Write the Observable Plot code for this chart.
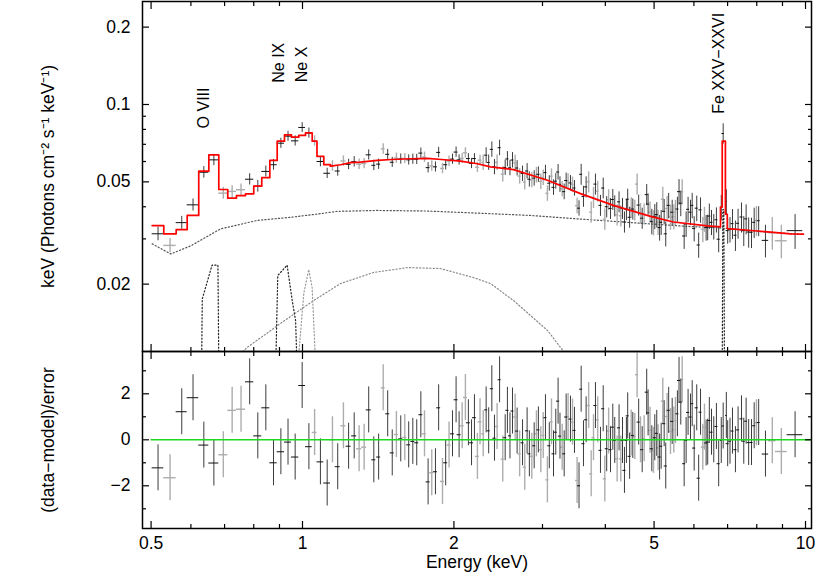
<!DOCTYPE html>
<html><head><meta charset="utf-8">
<script src="https://cdn.jsdelivr.net/npm/d3@7"></script>
<script src="https://cdn.jsdelivr.net/npm/@observablehq/plot@0.6"></script>
<style>
body{margin:0;background:#fff;}
#chart{position:relative;width:830px;height:573px;overflow:hidden;background:#fff;}
#chart svg{position:absolute;left:0;background:transparent;overflow:visible;}
</style></head><body><div id="chart"></div>
<script>
// ---------- data ----------
const energy = [
0.5162,0.5454,0.5754,0.6059,0.6366,0.6665,0.6960,0.7247,0.7548,0.7852,
0.8150,0.8455,0.8758,0.9058,0.9359,0.9670,0.9985,1.0297,1.0570,1.0855,
1.1196,1.147,1.175,1.206,1.235,1.267,1.296,1.326,1.354,1.386,
1.417,1.447,1.477,1.508,1.537,1.568,1.597,1.626,1.657,1.687,
1.719,1.748,1.777,1.807,1.838,1.865,1.898,1.926,1.956,1.987,
2.020,2.048,2.077,2.108,2.137,2.168,2.197,2.227,2.254,2.287,
2.318,2.345,2.379,2.408,2.437,2.465,2.501,2.529,2.555,2.585,
2.615,2.647,2.671,2.702,2.738,2.766,2.796,2.825,2.857,2.888,
2.918,2.944,2.977,3.010,3.041,3.068,3.095,3.126,3.155,3.188,
3.222,3.250,3.283,3.313,3.343,3.373,3.410,3.442,3.473,3.515,
3.546,3.581,3.619,3.663,3.706,3.749,3.789,3.823,3.862,3.912,
3.961,3.990,4.025,4.061,4.096,4.139,4.176,4.222,4.259,4.293,
4.327,4.366,4.405,4.431,4.470,4.503,4.536,4.577,4.626,4.659,
4.699,4.735,4.778,4.834,4.865,4.908,4.948,4.986,5.016,5.061,
5.092,5.128,5.165,5.203,5.236,5.274,5.307,5.345,5.390,5.432,
5.472,5.514,5.563,5.605,5.650,5.687,5.738,5.790,5.842,5.907,
5.953,6.007,6.078,6.132,6.184,6.249,6.297,6.345,6.391,6.439,
6.503,6.571,6.651,6.720,6.800,6.860,6.960,7.003,7.078,7.159,
7.256,7.344,7.460,7.538,7.620,7.709,7.810,7.906,7.988,8.070,
8.325,8.590,8.953,9.534];

const halfWidth = [
0.0137,0.0155,0.0145,0.0160,0.0147,0.0152,0.0143,0.0145,0.0157,0.0148,
0.0150,0.0156,0.0148,0.0152,0.0150,0.0162,0.0154,0.0158,0.0116,0.0169,
0.0172,0.013,0.0135,0.014,0.014,0.0145,0.015,0.015,0.0155,0.0125,
0.0128,0.013,0.0133,0.0136,0.0138,0.0141,0.0144,0.0146,0.0149,0.0152,
0.0155,0.0157,0.016,0.0163,0.0165,0.0168,0.0171,0.0173,0.0176,0.0179,
0.0182,0.0184,0.0187,0.019,0.0192,0.0195,0.0198,0.02,0.0203,0.016,
0.016,0.016,0.017,0.017,0.017,0.017,0.018,0.018,0.018,0.018,
0.018,0.019,0.019,0.019,0.019,0.019,0.020,0.020,0.020,0.020,
0.020,0.021,0.021,0.021,0.021,0.021,0.022,0.022,0.022,0.022,
0.023,0.023,0.023,0.023,0.023,0.024,0.024,0.024,0.024,0.025,
0.025,0.025,0.025,0.026,0.026,0.026,0.027,0.027,0.027,0.027,
0.028,0.028,0.028,0.028,0.029,0.029,0.029,0.030,0.030,0.030,
0.030,0.031,0.031,0.031,0.031,0.032,0.032,0.032,0.032,0.033,
0.033,0.033,0.033,0.034,0.034,0.034,0.035,0.035,0.035,0.035,
0.036,0.036,0.036,0.036,0.037,0.037,0.037,0.037,0.038,0.038,
0.038,0.039,0.039,0.039,0.040,0.040,0.040,0.041,0.041,0.041,
0.042,0.042,0.043,0.043,0.043,0.044,0.044,0.044,0.045,0.045,
0.046,0.046,0.047,0.047,0.025,0.040,0.025,0.049,0.050,0.050,
0.051,0.051,0.052,0.053,0.053,0.054,0.055,0.055,0.056,0.056,
0.123,0.147,0.239,0.342];

const flux = [
0.0314,0.0283,0.0347,0.0407,0.0545,0.0609,0.0452,0.0459,0.0466,0.0512,
0.0481,0.0549,0.0583,0.0707,0.0753,0.0722,0.0814,0.0775,0.0722,0.0600,
0.0540,0.0577,0.0551,0.0603,0.0585,0.0599,0.0586,0.0589,0.0637,0.0580,
0.0586,0.0672,0.0640,0.0596,0.0619,0.0614,0.0617,0.0609,0.0613,0.0612,
0.0647,0.0624,0.0568,0.0577,0.0572,0.0651,0.0564,0.0583,0.0602,0.0613,
0.0653,0.0609,0.0617,0.0649,0.0616,0.0590,0.0616,0.0570,0.0607,0.0595,
0.0635,0.0595,0.0669,0.0572,0.0595,0.0679,0.0536,0.0569,0.0614,0.0567,
0.0608,0.0593,0.0566,0.0526,0.0539,0.0499,0.0551,0.0512,0.0509,0.0517,
0.0532,0.0535,0.0502,0.0520,0.0543,0.0451,0.0494,0.0526,0.0476,0.0503,
0.0546,0.0489,0.0470,0.0458,0.0506,0.0503,0.0495,0.0488,0.0473,0.0404,
0.0395,0.0535,0.0439,0.0478,0.0500,0.0381,0.0435,0.0490,0.0460,0.0405,
0.0473,0.0358,0.0400,0.0426,0.0394,0.0427,0.0403,0.0372,0.0418,0.0369,
0.0394,0.0349,0.0390,0.0428,0.0364,0.0397,0.0392,0.0388,0.0490,0.0406,
0.0377,0.0361,0.0375,0.0446,0.0410,0.0381,0.0351,0.0347,0.0367,0.0373,
0.0348,0.0332,0.0348,0.0428,0.0384,0.0314,0.0394,0.0405,0.0365,0.0381,
0.0366,0.0381,0.0392,0.0458,0.0413,0.0458,0.0308,0.0343,0.0391,0.0381,
0.0405,0.0329,0.0395,0.0284,0.0389,0.0327,0.0358,0.0332,0.0333,0.0368,
0.0348,0.0335,0.0356,0.0299,0.0398,0.0771,0.0419,0.0323,0.0326,0.0344,
0.0310,0.0345,0.0365,0.0323,0.0359,0.0319,0.0318,0.0348,0.0354,0.0353,
0.0296,0.0317,0.0295,0.0323];

const fluxErr = [
0.0019,0.0018,0.0020,0.0022,0.0028,0.0031,0.0024,0.0024,0.0024,0.0026,
0.0025,0.0027,0.0028,0.0032,0.0034,0.0033,0.0036,0.0035,0.0033,0.0028,
0.0025,0.0027,0.0025,0.0028,0.0027,0.0028,0.0027,0.0027,0.0029,0.0027,
0.0027,0.0031,0.0029,0.0027,0.0028,0.0028,0.0028,0.0028,0.0028,0.0028,
0.0030,0.0029,0.0026,0.0027,0.0026,0.0030,0.0026,0.0027,0.0028,0.0028,
0.0030,0.0028,0.0028,0.0030,0.0028,0.0027,0.0028,0.0026,0.0028,0.0041,
0.0044,0.0041,0.0046,0.0039,0.0041,0.0047,0.0037,0.0039,0.0042,0.0039,
0.0042,0.0041,0.0039,0.0036,0.0037,0.0034,0.0038,0.0035,0.0035,0.0036,
0.0037,0.0037,0.0035,0.0036,0.0037,0.0031,0.0034,0.0036,0.0033,0.0035,
0.0038,0.0034,0.0032,0.0032,0.0035,0.0035,0.0034,0.0034,0.0033,0.0028,
0.0027,0.0050,0.0041,0.0045,0.0047,0.0036,0.0041,0.0046,0.0043,0.0038,
0.0044,0.0034,0.0038,0.0040,0.0037,0.0040,0.0038,0.0035,0.0039,0.0035,
0.0037,0.0033,0.0037,0.0040,0.0034,0.0037,0.0037,0.0036,0.0046,0.0038,
0.0035,0.0034,0.0035,0.0042,0.0039,0.0036,0.0040,0.0039,0.0041,0.0042,
0.0039,0.0038,0.0039,0.0048,0.0043,0.0035,0.0045,0.0046,0.0041,0.0043,
0.0041,0.0043,0.0044,0.0052,0.0047,0.0052,0.0035,0.0039,0.0044,0.0043,
0.0046,0.0037,0.0045,0.0032,0.0044,0.0037,0.0040,0.0038,0.0038,0.0042,
0.0039,0.0038,0.0040,0.0034,0.0045,0.0070,0.0047,0.0037,0.0037,0.0046,
0.0042,0.0046,0.0049,0.0043,0.0048,0.0043,0.0043,0.0047,0.0047,0.0047,
0.0043,0.0046,0.0044,0.0050];

const resid = [
-1.22,-1.65,1.22,1.83,-0.23,-1.01,-0.65,1.28,1.33,2.52,
0.17,1.39,-1.00,-0.52,-0.10,-0.75,2.36,-0.30,0.32,-0.96,
-1.88,0.00,-1.17,0.61,-0.28,0.17,-0.39,-0.32,1.30,-0.87,
-0.75,2.26,1.13,-0.57,0.23,0.04,0.10,-0.22,-0.07,-0.13,
1.09,0.26,-1.83,-1.43,-1.39,1.39,-1.81,-1.00,-0.23,0.26,
1.74,0.22,0.61,1.84,0.74,-0.13,0.96,-0.72,0.78,0.26,
1.30,0.39,2.22,0.07,0.58,2.61,-0.84,0.09,1.28,0.17,
1.25,0.99,0.38,-0.61,-0.13,-1.19,0.39,-0.61,-0.72,-0.26,
0.26,0.43,-0.43,0.19,0.96,-1.74,-0.26,0.78,-0.61,0.33,
1.68,0.16,-0.32,-0.61,0.99,1.01,0.90,0.77,0.41,-1.77,
-2.00,2.20,-0.17,0.87,1.49,-1.48,0.09,1.49,0.87,-0.46,
1.35,-1.70,-0.39,0.38,-0.43,0.55,-0.03,-0.83,0.52,-0.83,
-0.03,-1.33,-0.03,1.04,-0.72,0.29,0.19,0.14,2.83,0.77,
0.00,-0.43,0.04,2.07,1.17,0.41,-0.39,-0.46,0.09,0.28,
-0.35,-0.75,-0.28,1.68,0.70,-1.14,1.01,1.28,0.36,0.80,
0.43,0.84,1.13,2.58,1.64,2.61,-1.04,-0.03,1.19,0.99,
1.57,-0.36,1.39,-1.67,1.20,-0.32,0.55,-0.14,-0.10,0.84,
0.33,0.00,0.58,-1.04,-0.03,0.60,1.06,-0.17,-0.06,0.38,
-0.43,0.43,0.91,-0.06,0.81,-0.12,-0.12,0.61,0.74,0.75,
-0.62,-0.04,-0.51,0.22];

// 1 = dark spectrum, 2 = light spectrum
const dataset = [
1,2,1,1,1,1,2,2,2,1, 1,1,1,1,1,1,1,1,2,1,
1,2,1,2,1,1,2,2,1,1, 1,2,1,1,2,1,2,1,1,1,
1,2,1,2,1,1,2,1,2,1, 1,1,2,2,1,1,1,2,2,2,
1,1,1,1,2,1,2,1,1,1, 1,2,1,2,1,2,1,1,2,1,
2,1,2,2,1,2,1,2,1,1, 1,1,2,1,1,2,1,2,1,2,
1,1,1,1,2,2,2,1,2,1, 1,2,1,2,1,1,1,2,1,2,
1,1,1,1,1,2,1,2,2,1, 2,1,2,1,1,2,1,2,1,1,
2,1,1,2,1,1,2,1,2,1, 2,2,1,1,1,2,1,1,1,1,
1,1,1,1,1,2,2,1,1,1, 1,1,1,1,1,1,1,1,1,1,
1,1,1,1,1,1,1,1,2,1, 1,2,2,1];

// folded model (red): binned steps at low energy, then fine bins
const modelStepE = [0.5025,0.5299,0.5609,0.5899,0.6219,0.6513,0.6817,0.7102,0.7391,0.7704,0.8000,0.8299,0.8610,0.8906,0.9209,0.9508,0.9831,1.0139,1.0454,1.0686,1.1024,1.1368];
const modelStepF = [0.0338,0.0314,0.0326,0.0370,0.0550,0.0637,0.0467,0.0432,0.0442,0.0449,0.0481,0.0519,0.0606,0.0720,0.0762,0.0746,0.0758,0.0776,0.0720,0.0628,0.0583,0.0575];
const modelE = [1.1368,1.190,1.246,1.304,1.409,1.503,1.640,1.771,1.889,2.061,2.227,2.365,2.627,3.068,3.570,4.152,4.919,5.464,6.382,6.776,6.776,6.830,6.830,6.930,6.930,6.990,6.990,8.023,9.336,9.908];
const modelF = [0.0576,0.0583,0.0594,0.0597,0.0606,0.0611,0.0615,0.0617,0.0611,0.0602,0.0588,0.0572,0.0558,0.0507,0.0450,0.0405,0.0367,0.0349,0.0337,0.0334,0.0399,0.0399,0.0720,0.0720,0.0374,0.0374,0.0329,0.0322,0.0314,0.0313];

// model components (dotted)
const contE = [0.5025,0.547,0.600,0.687,0.813,0.947,1.086,1.172,1.408,1.77,2.365,2.84,3.52,4.92,5.90,6.78,8.0,9.9];
const contF = [0.0287,0.0262,0.0282,0.0328,0.0354,0.0364,0.0376,0.0384,0.0387,0.0385,0.0376,0.0370,0.0359,0.0343,0.0335,0.0331,0.0321,0.0312];
const broadE = [0.72,0.776,0.904,1.052,1.190,1.384,1.617,1.881,2.188,2.365,2.628,3.069,3.258,3.45];
const broadF = [0.0098,0.01134,0.01406,0.01726,0.0201,0.0222,0.0232,0.0230,0.0212,0.0201,0.01726,0.01321,0.01134,0.0098];
const oviiiE = [0.630,0.632,0.661,0.679,0.682];
const oviiiF = [0.009,0.0175,0.0237,0.0237,0.009];
const neixE = [0.884,0.893,0.932,0.954,0.969,0.976];
const neixF = [0.009,0.0216,0.0237,0.0173,0.0144,0.009];
const nexE = [0.976,1.006,1.029,1.045,1.064];
const nexF = [0.009,0.0184,0.0228,0.0194,0.009];
const feE = [6.83,6.85,6.88,6.90];
const feF = [0.009,0.039,0.039,0.009];

// line identifications
const lineNames = ["O VIII","Ne IX","Ne X","Fe XXV\u2212XXVI"];
const labelE = [0.636,0.897,0.999,6.72];
const labelF = [0.0807,0.1215,0.1221,0.0920];

// axes
const xMajor = [0.5,1,2,5,10];
const xMinor = [0.6,0.7,0.8,0.9,3,4,6,7,8,9];
const yTopMajor = [0.02,0.05,0.1,0.2];
const yTopMinor = [0.03,0.04,0.06,0.07,0.08,0.09];
const yResMajor = [-2,0,2];
const yResMinor = [-3,-1,1,3];
const xDomain = [0.48075,10.278];
const yTopDomain = [0.010937,0.25163];
const yResDomain = [-3.857,3.839];

// ---------- drawing ----------
const pts = energy.map((e,i)=>({e, hw: halfWidth[i], f: flux[i], fe: fluxErr[i], r: resid[i], s: dataset[i]}));
const dark = "#3c3c3c", light = "#adadad";
const set1 = pts.filter(d=>d.s===1), set2 = pts.filter(d=>d.s===2);
const pairs = (E,F)=>E.map((e,i)=>({e, f: F[i]}));
const font = "'Liberation Sans', Arial, Helvetica, sans-serif";
const dots = {x:"e", y:"f", strokeDasharray:"1.2,2.2", strokeWidth:1.2, clip:true};
const noText = ()=>"";
function tickMarks(axis, anchor, values, size){
  return axis({ticks: values, anchor, tickSize: -size, tickFormat: noText, label: null, strokeWidth: 1.2});
}

const topPlot = Plot.plot({
  width: 830, height: 352,
  marginTop: 1, marginBottom: 1, marginLeft: 142, marginRight: 19,
  x: {type: "log", domain: xDomain},
  y: {type: "log", domain: yTopDomain},
  style: {fontFamily: font, fontSize: "17.5px", background: "transparent", overflow: "visible", color: "#000"},
  marks: [
    Plot.line(pairs(contE, contF), {...dots, stroke: "#555"}),
    Plot.line(pairs(broadE, broadF), {...dots, stroke: "#8a8a8a"}),
    Plot.line(pairs(oviiiE, oviiiF), {...dots, stroke: "#222"}),
    Plot.line(pairs(neixE, neixF), {...dots, stroke: "#222"}),
    Plot.line(pairs(nexE, nexF), {...dots, stroke: "#999"}),
    Plot.line(pairs(feE, feF), {...dots, stroke: "#222"}),
    Plot.ruleX(set2, {x: "e", y1: d=>d.f-d.fe, y2: d=>d.f+d.fe, stroke: light, strokeWidth: 1.4}),
    Plot.ruleY(set2, {y: "f", x1: d=>d.e-d.hw, x2: d=>d.e+d.hw, stroke: light, strokeWidth: 1.4}),
    Plot.ruleX(set1, {x: "e", y1: d=>d.f-d.fe, y2: d=>d.f+d.fe, stroke: dark, strokeWidth: 1}),
    Plot.ruleY(set1, {y: "f", x1: d=>d.e-d.hw, x2: d=>d.e+d.hw, stroke: "#111", strokeWidth: 1}),
    Plot.line(pairs(modelStepE, modelStepF), {x:"e", y:"f", curve: "step-after", stroke: "#ff0000", strokeWidth: 1.7}),
    Plot.line(pairs(modelE, modelF), {x:"e", y:"f", stroke: "#ff0000", strokeWidth: 1.7}),
    Plot.text(lineNames.map((t,i)=>({t, e: labelE[i], f: labelF[i]})), {x:"e", y:"f", text:"t", rotate: -90, textAnchor: "start", fontSize: 16, fill: "#000"}),
    Plot.frame({strokeWidth: 1.5}),
    tickMarks(Plot.axisX, "bottom", xMajor, 7), tickMarks(Plot.axisX, "bottom", xMinor, 4),
    tickMarks(Plot.axisX, "top", xMajor, 7), tickMarks(Plot.axisX, "top", xMinor, 4),
    tickMarks(Plot.axisY, "left", yTopMajor, 7), tickMarks(Plot.axisY, "left", yTopMinor, 4),
    tickMarks(Plot.axisY, "right", yTopMajor, 7), tickMarks(Plot.axisY, "right", yTopMinor, 4),
    Plot.axisY({ticks: yTopMajor, anchor: "left", tickSize: 0, tickPadding: 12, tickFormat: d=>String(d), label: null}),
    Plot.text(["keV (Photons cm\u207B\u00B2 s\u207B\u00B9 keV\u207B\u00B9)"], {text: d=>d, frameAnchor: "left", dx: -94, rotate: -90, textAnchor: "middle", lineAnchor: "middle", fontSize: 17.5, fill: "#000"})
  ]
});
topPlot.style.top = "0px";

const bottomPlot = Plot.plot({
  width: 830, height: 223,
  marginTop: 1, marginBottom: 45, marginLeft: 142, marginRight: 19,
  x: {type: "log", domain: xDomain},
  y: {domain: yResDomain},
  style: {fontFamily: font, fontSize: "17.5px", background: "transparent", overflow: "visible", color: "#000"},
  marks: [
    Plot.ruleX(set2, {x: "e", y1: d=>d.r-1, y2: d=>d.r+1, stroke: light, strokeWidth: 1.4}),
    Plot.ruleY(set2, {y: "r", x1: d=>d.e-d.hw, x2: d=>d.e+d.hw, stroke: light, strokeWidth: 1.4}),
    Plot.ruleX(set1, {x: "e", y1: d=>d.r-1, y2: d=>d.r+1, stroke: dark, strokeWidth: 1}),
    Plot.ruleY(set1, {y: "r", x1: d=>d.e-d.hw, x2: d=>d.e+d.hw, stroke: "#111", strokeWidth: 1}),
    Plot.ruleY([0], {x1: xMajor[0], x2: xDomain[1], stroke: "#1ed81e", strokeWidth: 1.5}),
    Plot.frame({strokeWidth: 1.5}),
    tickMarks(Plot.axisX, "bottom", xMajor, 7), tickMarks(Plot.axisX, "bottom", xMinor, 4),
    tickMarks(Plot.axisX, "top", xMajor, 7), tickMarks(Plot.axisX, "top", xMinor, 4),
    tickMarks(Plot.axisY, "left", yResMajor, 7), tickMarks(Plot.axisY, "left", yResMinor, 4),
    tickMarks(Plot.axisY, "right", yResMajor, 7), tickMarks(Plot.axisY, "right", yResMinor, 4),
    Plot.axisX({ticks: xMajor, anchor: "bottom", tickSize: 0, tickPadding: 8, tickFormat: d=>String(d), label: null}),
    Plot.axisY({ticks: yResMajor, anchor: "left", tickSize: 0, tickPadding: 12, label: null}),
    Plot.text(["Energy (keV)"], {text: d=>d, frameAnchor: "bottom", dy: 34, textAnchor: "middle", lineAnchor: "middle", fontSize: 17.5, fill: "#000"}),
    Plot.text(["(data\u2212model)/error"], {text: d=>d, frameAnchor: "left", dx: -94, rotate: -90, textAnchor: "middle", lineAnchor: "middle", fontSize: 17.5, fill: "#000"})
  ]
});
bottomPlot.style.top = "350px";

const chart = document.getElementById("chart");
chart.appendChild(topPlot);
chart.appendChild(bottomPlot);
</script></body></html>
